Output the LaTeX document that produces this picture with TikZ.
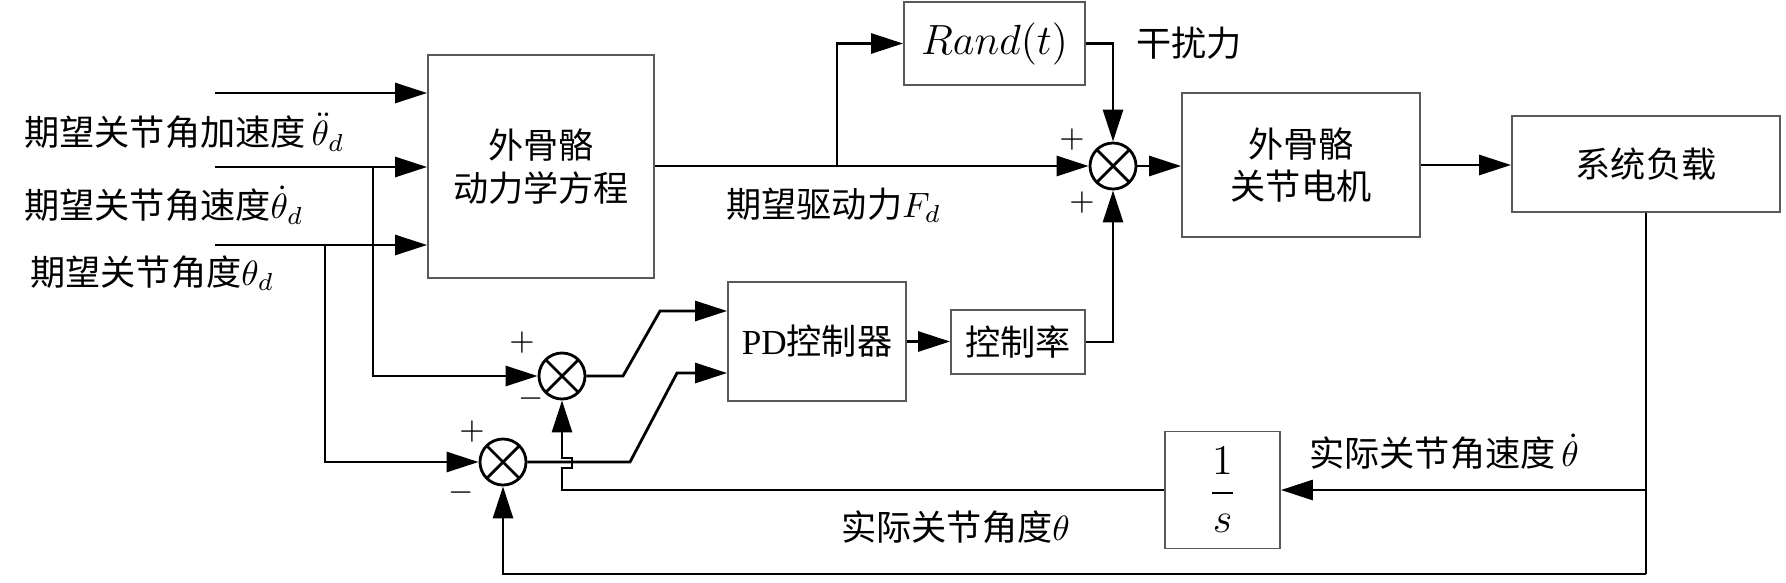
\documentclass[tikz,border=0pt]{standalone}
\usepackage{fontspec}
\setmainfont{Liberation Serif}
\newfontfamily\cjk{Noto Sans CJK SC}
\usetikzlibrary{arrows.meta,positioning}

\begin{document}
\begin{tikzpicture}[
  x=0.01cm, y=-0.01cm,
  font=\fontsize{10}{12}\selectfont\cjk,
  line width=0.8pt,
  arr/.style={-{Triangle[length=3.2mm,width=2mm]}},
  block/.style={draw=black!65, line width=0.5pt, align=center, inner sep=0pt},
  sum/.style={draw, circle, minimum size=0.46cm, inner sep=0pt,
    path picture={
      \draw (path picture bounding box.north west) -- (path picture bounding box.south east)
            (path picture bounding box.north east) -- (path picture bounding box.south west);
    }},
  sign/.style={font=\fontsize{9}{10}\selectfont\rmfamily, inner sep=0pt},
  lab/.style={anchor=west, inner sep=0pt},
]
  \useasboundingbox (0,0) rectangle (1786,582);

  % Blocks
  \node[block, minimum width=1.81cm, minimum height=0.83cm, font=\fontsize{13}{15}\selectfont] (rand) at (994.5,43.5) {$Rand\bigl(t\bigr)$};
  \node[block, minimum width=2.26cm, minimum height=2.23cm] (dyn) at (541,166.5) {外骨骼\\动力学方程};
  \node[block, minimum width=2.38cm, minimum height=1.44cm] (motor) at (1301,165) {外骨骼\\关节电机};
  \node[block, minimum width=2.68cm, minimum height=0.96cm] (load) at (1646,164) {系统负载};
  \node[block, minimum width=1.78cm, minimum height=1.19cm] (pd) at (817,341.5) {{\rmfamily PD}控制器};
  \node[block, minimum width=1.34cm, minimum height=0.64cm] (rate) at (1018,342) {控制率};
  \node[block, minimum width=1.15cm, minimum height=1.17cm, font=\fontsize{13}{15}\selectfont] (integ) at (1222.5,490) {$\displaystyle\frac{1}{s}$};

  % Summing junctions
  \node[sum] (s3) at (1113,166) {};
  \node[sum] (s1) at (562,376) {};
  \node[sum] (s2) at (503,462) {};

  % Signs
  \node[sign] at (1072,140) {$+$};
  \node[sign] at (1082,203) {$+$};
  \node[sign] at (522,343) {$+$};
  \node[sign] at (531,399) {$-$};
  \node[sign] at (472,432) {$+$};
  \node[sign] at (461,493) {$-$};

  % Inputs
  \coordinate (in1) at (215,93);
  \coordinate (in2) at (215,167);
  \coordinate (in3) at (215,245);
  \coordinate (b2) at (373,167);
  \coordinate (b3) at (325,245);
  \draw[arr] (in1) -- (dyn.west |- in1);
  \draw[arr] (in2) -- (dyn.west |- in2);
  \draw[arr] (in3) -- (dyn.west |- in3);
  \draw[arr] (b2) |- (s1.west);
  \draw[arr] (b3) |- (s2.west);

  % Forward path
  \coordinate (fdb) at (837,166);
  \draw[arr] (dyn.east |- s3.west) -- (s3.west);
  \draw[arr] (fdb) |- (rand.west);
  \draw[arr] (rand.east) -| (s3.north);
  \draw[arr] (s3.east) -- (motor.west |- s3.east);
  \draw[arr] (motor.east) -- (load.west |- motor.east);

  % PD branch
  \draw[arr] (s1.east) -- (623,376) -- (660,311) -- ([yshift=3.05mm]pd.west);
  \draw[arr] (s2.east) -- (630,462) -- (677,373) -- ([yshift=-3.15mm]pd.west);
  \draw[arr] (pd.east) -- (rate.west |- pd.east);
  \draw[arr] (rate.east) -| (s3.south);

  % Feedback
  \coordinate (fv) at (1646,490);
  \coordinate (fb) at (1646,574);
  \draw (load.south) -- (fb);
  \draw[arr] (fv) -- (integ.east);
  \draw[arr] (integ.west) -- (s1.south |- integ.west) -- ++(0,-22) -- ++(10,0) -- ++(0,-10) -- ++(-10,0) -- (s1.south);
  \draw[arr] (fb) -| (s2.south);

  % Labels
  \node[lab] (l1) at (23,132) {期望关节角加速度\,$\ddot{\theta}_d$};
  \node[lab] (l2) at (23,205) {期望关节角速度$\dot{\theta}_d$};
  \node[lab] (l3) at (29,273) {期望关节角度$\theta_d$};
  \node[lab] (lfd) at (725,205) {期望驱动力$F_d$};
  \node[lab] (ldist) at (1135,43) {干扰力};
  \node[lab] (lw) at (1308,452) {实际关节角速度\,$\dot{\theta}$};
  \node[lab] (lq) at (840,527) {实际关节角度$\theta$};
\end{tikzpicture}
\end{document}
